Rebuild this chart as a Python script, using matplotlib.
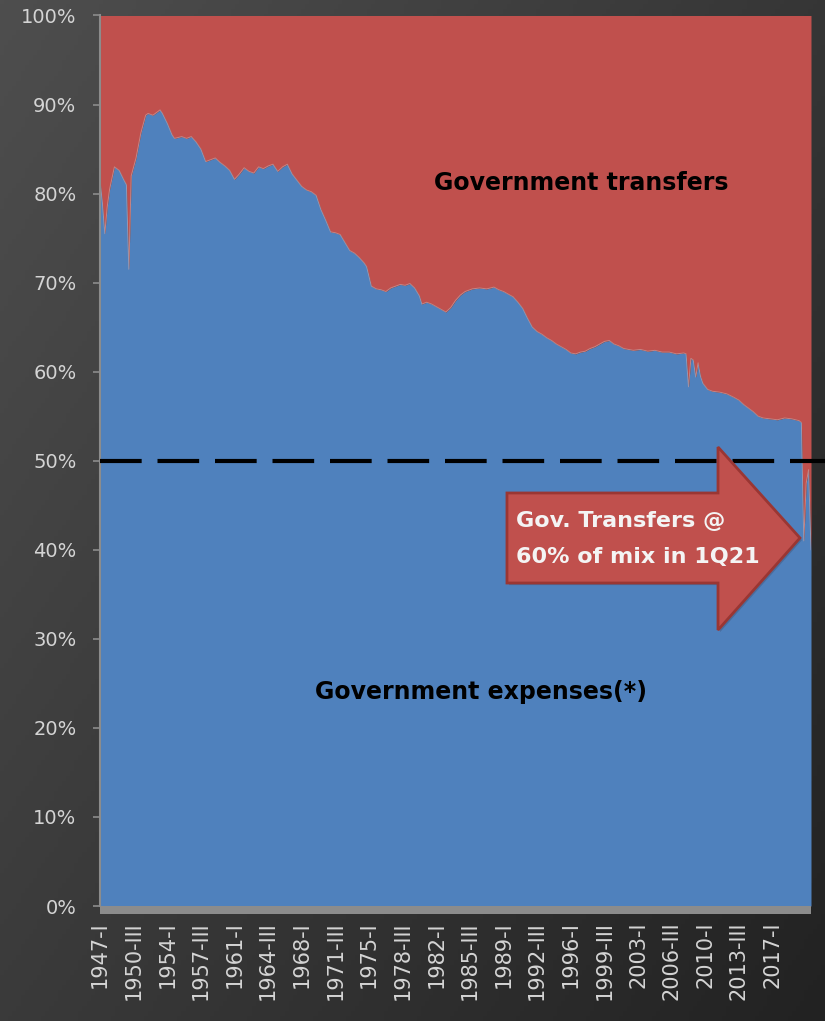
import numpy as np
import matplotlib
matplotlib.use("Agg")
from matplotlib import pyplot as plt
from matplotlib.patches import Polygon, Rectangle
from matplotlib import patheffects

plt.rcParams['font.family'] = ['DejaVu Sans']

# quarters counted from 1947-I, and government expenses as % of (expenses + transfers)
qtr = [0, 1, 2, 3, 4, 6, 8, 10, 11, 12, 13, 14, 15, 17, 19, 20, 22, 24, 25, 26,
       28, 30, 31, 34, 36, 38, 40, 42, 44, 46, 48, 50, 52, 54, 56, 58, 60, 62, 64, 66,
       68, 70, 72, 74, 76, 78, 80, 82, 84, 86, 88, 90, 92, 94, 96, 98, 100, 102, 104, 106,
       108, 110, 111, 113, 115, 117, 119, 121, 123, 125, 127, 129, 131, 133, 134, 136, 138, 140, 142, 144,
       146, 148, 150, 152, 155, 158, 161, 164, 166, 168, 170, 172, 174, 176, 178, 180, 182, 184, 186, 188,
       190, 192, 194, 196, 198, 200, 202, 204, 206, 208, 210, 212, 214, 216, 218, 220, 222, 225, 228, 231,
       234, 237, 240, 243, 244, 245, 246, 247, 248, 249, 250, 251, 253, 255, 258, 261, 264, 266, 268, 270,
       272, 274, 276, 279, 282, 285, 288, 291, 292, 293, 294, 295, 296]
expense_share = [81.5, 79.0, 75.5, 78.5, 80.5, 83.0, 82.6, 81.5, 81.0, 71.5, 82.0, 83.0, 84.0, 86.8, 88.8, 89.0, 88.8, 89.2, 89.4, 89.0,
                 87.9, 86.6, 86.2, 86.4, 86.2, 86.4, 85.8, 85.0, 83.6, 83.8, 84.0, 83.5, 83.1, 82.6, 81.6, 82.2, 82.9, 82.5, 82.3, 83.0,
                 82.8, 83.1, 83.3, 82.5, 83.0, 83.3, 82.2, 81.5, 80.8, 80.4, 80.2, 79.8, 78.2, 77.0, 75.7, 75.6, 75.4, 74.5, 73.6, 73.3,
                 72.8, 72.2, 71.8, 69.6, 69.3, 69.2, 69.0, 69.4, 69.6, 69.8, 69.7, 69.9, 69.4, 68.5, 67.6, 67.8, 67.6, 67.3, 67.0, 66.7,
                 67.2, 68.0, 68.6, 69.0, 69.3, 69.4, 69.3, 69.5, 69.2, 69.0, 68.7, 68.4, 67.8, 67.1, 66.0, 65.0, 64.5, 64.2, 63.8, 63.5,
                 63.1, 62.8, 62.5, 62.1, 62.0, 62.2, 62.3, 62.6, 62.8, 63.1, 63.4, 63.5, 63.1, 62.9, 62.6, 62.5, 62.4, 62.5, 62.3, 62.4,
                 62.2, 62.2, 62.0, 62.1, 62.0, 58.3, 61.5, 61.3, 59.4, 61.0, 59.5, 58.7, 58.0, 57.8, 57.7, 57.5, 57.1, 56.8, 56.3, 55.9,
                 55.5, 55.0, 54.8, 54.7, 54.6, 54.8, 54.7, 54.5, 54.3, 41.0, 47.5, 49.0, 40.0]

tick_labels = ['1947-I', '1950-III', '1954-I', '1957-III', '1961-I', '1964-III', '1968-I',
               '1971-III', '1975-I', '1978-III', '1982-I', '1985-III', '1989-I', '1992-III',
               '1996-I', '1999-III', '2003-I', '2006-III', '2010-I', '2013-III', '2017-I']
roman = {'I': 0, 'II': 1, 'III': 2, 'IV': 3}
tick_pos = [(int(s.split('-')[0]) - 1947) * 4 + roman[s.split('-')[1]] for s in tick_labels]

blue = '#4f81bd'
red = '#c0504d'
label_col = '#d4d4d4'

fig = plt.figure(figsize=(8.25, 10.21), dpi=100)

# dark diagonal gradient behind everything
bg = fig.add_axes([0, 0, 1, 1], zorder=-10)
xx, yy = np.meshgrid(np.linspace(0, 1, 200), np.linspace(0, 1, 200))
t = 0.55 * xx + 0.45 * yy
top_c = np.array([0x4e, 0x4e, 0x4e]) / 255
bot_c = np.array([0x22, 0x22, 0x22]) / 255
grad = top_c[None, None, :] * (1 - t[..., None]) + bot_c[None, None, :] * t[..., None]
bg.imshow(grad, extent=[0, 1, 0, 1], aspect='auto', origin='upper')
bg.axis('off')

ax = fig.add_axes([0.12121, 0.11263, 0.86182, 0.87219])
ax.set_facecolor('none')

q = np.array(qtr)
share = np.array(expense_share)
ax.fill_between(q, 0, share, color=blue, lw=0)
ax.fill_between(q, share, 100, color=red, lw=0)
ax.plot(q, share, color='#c8a8ac', lw=0.7, alpha=0.6)

ax.set_xlim(0, 296)
ax.set_ylim(0, 100)

# 50% reference line, running past the right edge of the plot
ax.plot([0, 1.03], [50, 50], transform=ax.get_yaxis_transform(), clip_on=False,
        color='black', lw=3, linestyle=(0, (10, 3.8)), zorder=5)

ax.set_yticks(np.arange(0, 101, 10))
ax.set_yticklabels(['%d%%' % v for v in range(0, 101, 10)])
ax.set_xticks(tick_pos)
ax.set_xticklabels(tick_labels, rotation=90)
ax.tick_params(axis='y', colors='#8c8c8c', labelcolor=label_col, labelsize=14,
               length=5, width=1.2, pad=12)
ax.tick_params(axis='x', labelcolor=label_col, labelsize=15, length=0, pad=11)

for s in ['top', 'right', 'bottom']:
    ax.spines[s].set_visible(False)
ax.spines['left'].set_color('#8c8c8c')
ax.spines['left'].set_linewidth(1.5)
ax.add_patch(Rectangle((0, -0.009), 1, 0.009, transform=ax.transAxes,
                       color='#8c8c8c', clip_on=False, lw=0))

ax.text(0.6765, 0.812, 'Government transfers', transform=ax.transAxes,
        ha='center', va='center', fontsize=17, fontweight='bold', color='black')
ax.text(0.5359, 0.2403, 'Government expenses(*)', transform=ax.transAxes,
        ha='center', va='center', fontsize=17, fontweight='bold', color='black')

# block arrow with the callout
arrow_pts = [(0.5724, 0.3627), (0.8692, 0.3627), (0.8692, 0.3099), (0.9845, 0.4133),
             (0.8692, 0.5154), (0.8692, 0.4638), (0.5724, 0.4638)]
arrow = Polygon(arrow_pts, closed=True, transform=ax.transAxes, facecolor=red,
                edgecolor='#9a3633', lw=2, zorder=6)
arrow.set_path_effects([patheffects.SimplePatchShadow(offset=(1.5, -1.5), alpha=0.2),
                        patheffects.Normal()])
ax.add_patch(arrow)
ax.text(0.5851, 0.4323, 'Gov. Transfers @', transform=ax.transAxes, ha='left',
        va='center', fontsize=16, fontweight='bold', color='#f4f4f4', zorder=7)
ax.text(0.5851, 0.3919, '60% of mix in 1Q21', transform=ax.transAxes, ha='left',
        va='center', fontsize=16, fontweight='bold', color='#f4f4f4', zorder=7)

fig.savefig('out.png', dpi=100)
